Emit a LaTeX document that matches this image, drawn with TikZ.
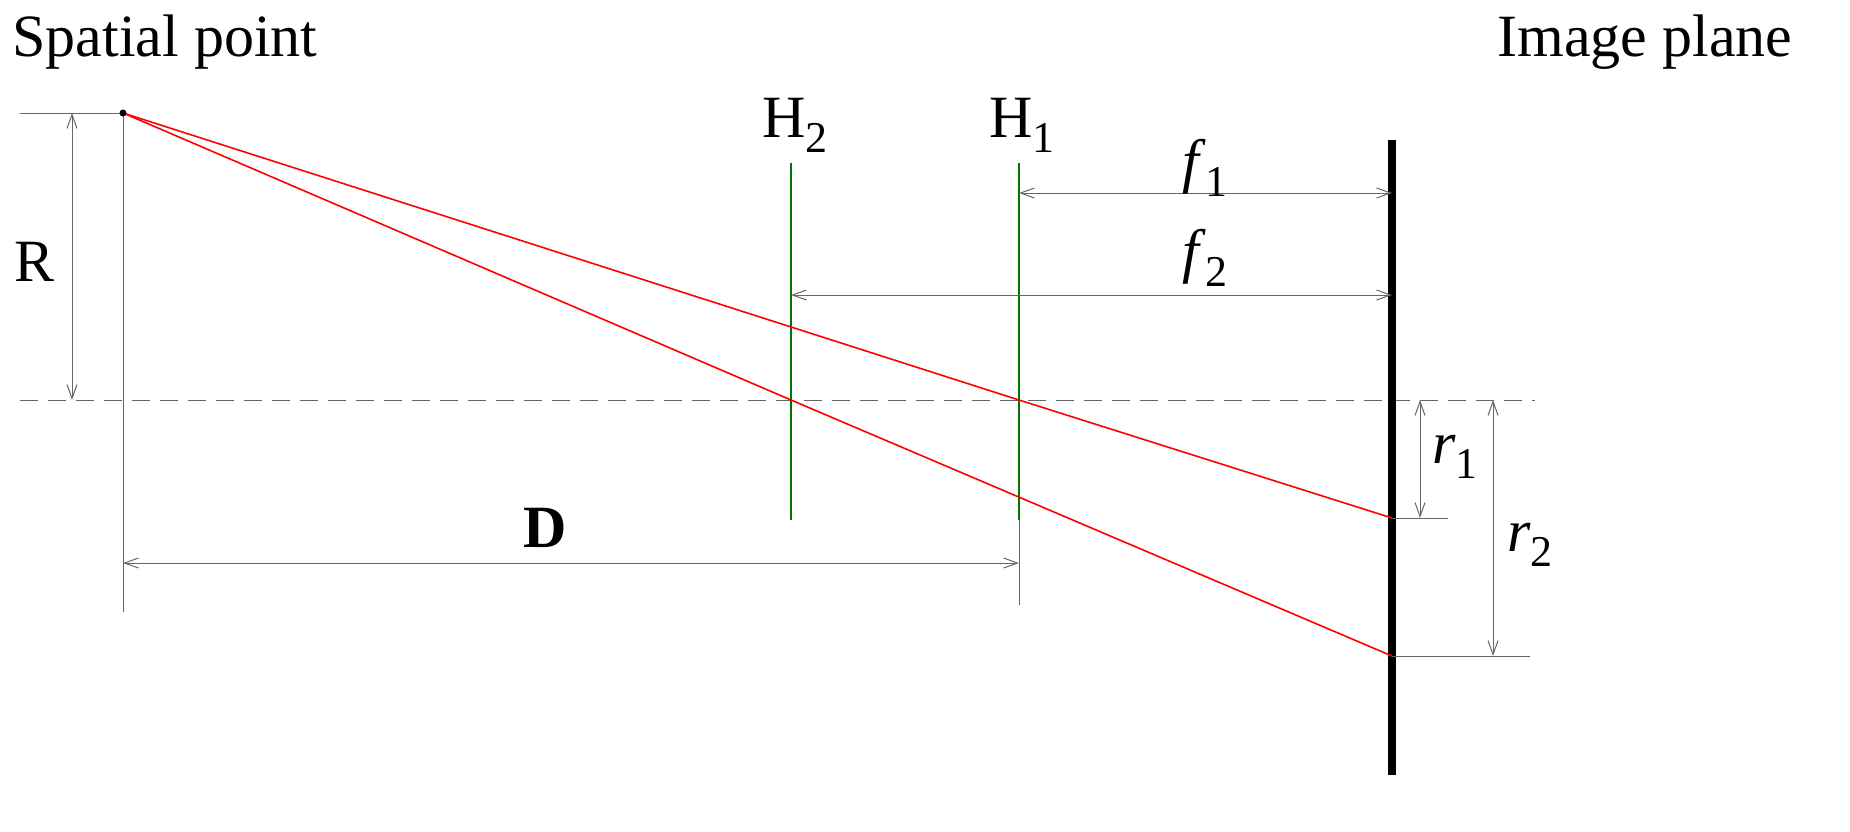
\documentclass[tikz,border=0pt]{standalone}
\usepackage{fontspec}
\setmainfont{Liberation Serif}
\usetikzlibrary{arrows.meta}
\newcommand{\mysub}[1]{\raisebox{-0.25em}{\fontsize{22}{26}\selectfont #1}}
\begin{document}
\begin{tikzpicture}[x=0.5pt,y=-0.5pt,
  dim/.style={draw=gray!80!black,line width=0.5pt},
  dimarrow/.style={dim,{Straight Barb[length=7pt,width=5pt]}-{Straight Barb[length=7pt,width=5pt]}},
  ray/.style={draw=red,line width=0.8pt},
  lens/.style={draw=green!45!black,line width=1.3pt},
  lbl/.style={font=\fontsize{30}{34}\selectfont,inner sep=0pt}]
\useasboundingbox (0,0) rectangle (1850,831);
\coordinate (P) at (123,113);
\coordinate (H1c) at (1019,400);
\coordinate (H2c) at (791,400);
\coordinate (I1) at (1392,518);
\coordinate (I2) at (1392,656);
% axis
\draw[dim,dashed,dash pattern=on 9pt off 5pt] (20,400) -- (1535,400);
% R
\draw[dim] (20,113) -- (P);
\draw[dim] (P) -- (123,612);
\draw[dimarrow] (72,113) -- (72,400);
\node[lbl] (R) at (35,262) {R};
% D
\draw[dim] (1019,520) -- (1019,605);
\draw[dimarrow] (123,563) -- (1019,563);
\node[lbl] (D) at (545,528) {\textbf{D}};
% lenses
\draw[lens] (791,163) -- (791,520);
\draw[lens] (1019,163) -- (1019,520);
\node[lbl] (H2) at (795,125) {H\mysub{2}};
\node[lbl] (H1) at (1022,125) {H\mysub{1}};
% image plane
\draw[line width=4pt] (1392,140) -- (1392,775);
\node[lbl] (IP) at (1645,42) {Image plane};
\node[lbl] (SP) at (165,42) {Spatial point};
% f
\draw[dimarrow] (1019,193) -- (1392,193);
\node[lbl] (f1) at (1205,168) {\textit{f}\mysub{1}};
\draw[dimarrow] (791,295) -- (1392,295);
\node[lbl] (f2) at (1205,258) {\textit{f}\mysub{2}};
% rays
\draw[ray] (P) -- (H1c) -- (I1);
\draw[ray] (P) -- (H2c) -- (I2);
\fill (P) circle (3.5);
% r1 r2
\draw[dim] (I1) -- (1448,518);
\draw[dimarrow] (1420,400) -- (1420,518);
\node[lbl] (r1) at (1455,457) {\textit{r}\mysub{1}};
\draw[dim] (I2) -- (1530,656);
\draw[dimarrow] (1493,400) -- (1493,656);
\node[lbl] (r2) at (1530,545) {\textit{r}\mysub{2}};
\end{tikzpicture}
\end{document}
